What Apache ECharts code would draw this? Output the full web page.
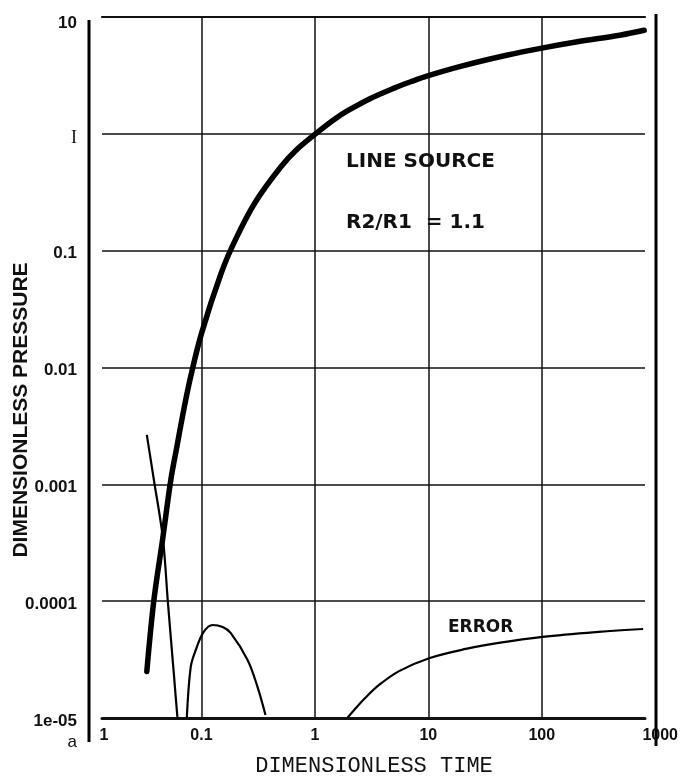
<!DOCTYPE html>
<html>
<head>
<meta charset="utf-8">
<script src="https://cdn.jsdelivr.net/npm/echarts@6.0.0/dist/echarts.min.js"></script>
<style>
html,body{margin:0;padding:0;background:#fff;}
#chart{width:681px;height:778px;}
</style>
</head>
<body>
<div id="chart"></div>
<script>
// Tick labels as printed on the chart
const xTickLabels = ['1', '0.1', '1', '10', '100', '1000'];      // decades 0.01 .. 1000
const yTickLabels = ['1e-05', '0.0001', '0.001', '0.01', '0.1', 'I', '10']; // decades 1e-5 .. 10

// LINE SOURCE curve (dimensionless pressure vs dimensionless time)
const lineSourceTime = [0.033, 0.038, 0.0457, 0.0537, 0.06, 0.07, 0.08, 0.1, 0.15, 0.2, 0.3, 0.5, 0.7, 1, 1.5, 2, 3, 5, 7, 10, 20, 50, 100, 200, 500, 800];
const lineSourcePressure = [2.5e-5, 1.0e-4, 3.5e-4, 1.09e-3, 1.97e-3, 4.4e-3, 8.2e-3, 0.0195, 0.065, 0.125, 0.262, 0.52, 0.74, 0.99, 1.34, 1.6, 1.98, 2.46, 2.79, 3.15, 3.82, 4.73, 5.42, 6.11, 7.02, 7.7];

// ERROR curve, three visible branches
const errorTime1 = [0.033, 0.0381, 0.0457, 0.0506, 0.0571, 0.0615, 0.064];
const errorValue1 = [2.65e-3, 1.09e-3, 3.47e-4, 9.8e-5, 2.4e-5, 1.0e-5, 7e-6];
const errorTime2 = [0.0743, 0.0805, 0.0891, 0.1047, 0.1256, 0.1538, 0.1808, 0.255, 0.3125, 0.367];
const errorValue2 = [1.0e-5, 2.74e-5, 3.82e-5, 5.45e-5, 6.25e-5, 6.0e-5, 5.35e-5, 3.14e-5, 1.84e-5, 1.06e-5];
const errorTime3 = [1.93, 2.22, 2.72, 3.68, 5.52, 10.3, 21.4, 41.7, 101.6, 315, 783];
const errorValue3 = [1.0e-5, 1.171e-5, 1.455e-5, 1.917e-5, 2.52e-5, 3.26e-5, 3.9e-5, 4.39e-5, 4.94e-5, 5.45e-5, 5.78e-5];

function zip(a, b) { return a.map((v, i) => [v, b[i]]); }
function decadeIndex(v, minExp) { return Math.round(Math.log10(v)) - minExp; }

const chart = echarts.init(document.getElementById('chart'), null, {renderer: 'canvas'});

const labelFont = {fontFamily: '"Liberation Sans", Arial, sans-serif', fontWeight: 'bold', fontSize: 17, color: '#111'};
const gridColor = '#111';

const thinErr = (data) => ({
  type: 'line', xAxisIndex: 0, yAxisIndex: 0, data: data,
  showSymbol: false, smooth: 0.35, clip: true,
  lineStyle: {color: '#000', width: 2.2}, silent: true, animation: false
});

const option = {
  animation: false,
  backgroundColor: '#fff',
  grid: [
    {left: 88, right: 24, top: 17, bottom: 60},
    {left: 102, right: 36, top: 17, bottom: 60}
  ],
  xAxis: [
    {
      gridIndex: 0, type: 'log', logBase: 10, min: 0.01, max: 1000, interval: 1,
      axisLine: {show: false}, axisTick: {show: false},
      splitLine: {show: true, showMinLine: false, showMaxLine: false, lineStyle: {color: gridColor, width: 1.5}},
      axisLabel: {
        margin: 10,
        formatter: function (v) {
          const i = decadeIndex(v, -2);
          if (i === 0) return '{f|' + xTickLabels[i] + '}';
          if (i === xTickLabels.length - 1) return '{l|' + xTickLabels[i] + '}';
          return '{n|' + xTickLabels[i] + '}';
        },
        rich: {
          n: Object.assign({}, labelFont, {fontSize: 16}),
          f: Object.assign({}, labelFont, {fontSize: 16, padding: [0, 0, 0, 32]}),
          l: Object.assign({}, labelFont, {fontSize: 16, padding: [0, 0, 0, 10]})
        }
      }
    },
    {
      gridIndex: 1, type: 'value', min: 0, max: 1, position: 'bottom',
      axisLine: {show: true, lineStyle: {color: gridColor, width: 3}},
      axisTick: {show: false}, axisLabel: {show: false}, splitLine: {show: false}
    },
    {
      gridIndex: 1, type: 'value', min: 0, max: 1, position: 'top',
      axisLine: {show: true, lineStyle: {color: gridColor, width: 2.2}},
      axisTick: {show: false}, axisLabel: {show: false}, splitLine: {show: false}
    }
  ],
  yAxis: [
    {
      gridIndex: 0, type: 'log', logBase: 10, min: 1e-5, max: 10, interval: 1,
      axisLine: {show: false}, axisTick: {show: false}, splitLine: {show: false},
      axisLabel: {
        margin: 11,
        formatter: function (v) {
          const i = decadeIndex(v, -5);
          if (yTickLabels[i] === 'I') return '{s|I}';
          if (i === yTickLabels.length - 1) return '{t|' + yTickLabels[i] + '}';
          return '{n|' + yTickLabels[i] + '}';
        },
        rich: {
          n: Object.assign({}, labelFont, {padding: [6, 0, 0, 0]}),
          t: Object.assign({}, labelFont, {padding: [12, 0, 0, 0]}),
          s: {fontFamily: '"Liberation Serif", "Times New Roman", serif', fontSize: 18, color: '#111', padding: [8, 0, 0, 0]}
        }
      }
    },
    {
      gridIndex: 1, type: 'log', logBase: 10, min: 1e-5, max: 10, interval: 1,
      axisLine: {show: false}, axisTick: {show: false}, axisLabel: {show: false},
      splitLine: {show: true, lineStyle: {color: gridColor, width: 1.6}}
    }
  ],
  series: [
    {
      name: 'LINE SOURCE', type: 'line', xAxisIndex: 0, yAxisIndex: 0,
      data: zip(lineSourceTime, lineSourcePressure),
      showSymbol: false, smooth: 0.35, clip: true,
      lineStyle: {color: '#000', width: 5.5, cap: 'round', join: 'round'}, silent: true
    },
    Object.assign(thinErr(zip(errorTime1, errorValue1)), {name: 'ERROR a'}),
    Object.assign(thinErr(zip(errorTime2, errorValue2)), {name: 'ERROR b'}),
    Object.assign(thinErr(zip(errorTime3, errorValue3)), {name: 'ERROR c'})
  ],
  graphic: [
    {type: 'line', shape: {x1: 89, y1: 20, x2: 89, y2: 742}, style: {stroke: '#000', lineWidth: 3}},
    {type: 'line', shape: {x1: 656, y1: 14, x2: 656, y2: 746}, style: {stroke: '#000', lineWidth: 3}},
    {type: 'text', x: 21, y: 410, rotation: Math.PI / 2,
      style: {text: 'DIMENSIONLESS PRESSURE', fill: '#111', font: 'bold 21px "Liberation Sans", Arial, sans-serif', align: 'center', verticalAlign: 'middle'}},
    {type: 'text', x: 374, y: 766,
      style: {text: 'DIMENSIONLESS TIME', fill: '#111', font: '22px "Liberation Mono", "Courier New", monospace', align: 'center', verticalAlign: 'middle'}},
    {type: 'text', x: 77, y: 742,
      style: {text: 'a', fill: '#111', font: '17px "Liberation Sans", Arial, sans-serif', align: 'right', verticalAlign: 'middle'}},
    {type: 'text', x: 346, y: 162,
      style: {text: 'LINE SOURCE', fill: '#111', font: 'bold 20px "DejaVu Sans", sans-serif', align: 'left', verticalAlign: 'middle'}},
    {type: 'text', x: 346, y: 223,
      style: {text: 'R2/R1  = 1.1', fill: '#111', font: 'bold 20px "DejaVu Sans", sans-serif', align: 'left', verticalAlign: 'middle'}},
    {type: 'text', x: 448, y: 628,
      style: {text: 'ERROR', fill: '#111', font: 'bold 17px "DejaVu Sans", sans-serif', align: 'left', verticalAlign: 'middle'}}
  ]
};
chart.setOption(option);
</script>
</body>
</html>
